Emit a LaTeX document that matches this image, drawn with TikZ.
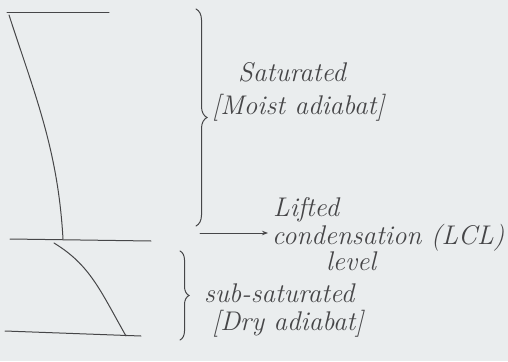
\documentclass[tikz,border=0pt]{standalone}
\usetikzlibrary{decorations.pathreplacing,arrows.meta}
\definecolor{paper}{RGB}{234,237,238}
\definecolor{ink}{RGB}{70,70,72}
\tikzset{
  pen/.style={draw=ink, line width=1pt, line cap=round},
  lbl/.style={text=ink, font=\fontsize{27}{29}\selectfont\itshape, inner sep=0pt, anchor=west},
  bracestyle/.style={pen, decorate, decoration={brace, amplitude=#1}},
}
\begin{document}
\begin{tikzpicture}[x=1pt,y=-1pt]
\fill[paper] (0,0) rectangle (508,361);
\useasboundingbox (0,0) rectangle (508,361);
% levels
\coordinate (t1) at (7,13);   \coordinate (t2) at (109,13);
\coordinate (m1) at (10,239); \coordinate (m2) at (151,241);
\coordinate (b1) at (5,331);  \coordinate (b2) at (141,336);
\draw[pen] (t1) -- (t2);
\draw[pen] (m1) -- (m2);
\draw[pen] (b1) -- (b2);
% moist adiabat
\coordinate (ma1) at (9,15); \coordinate (ma2) at (63,239);
\draw[pen] (ma1) .. controls (35,95) and (58,150) .. (ma2);
% dry adiabat
\coordinate (da1) at (54,243); \coordinate (da2) at (126,336);
\draw[pen] (da1) .. controls (90,265) and (100,290) .. (da2);
% braces
\coordinate (ub1) at (196,9); \coordinate (ub2) at (196,226);
\draw[bracestyle=11pt] (ub1) -- (ub2);
\coordinate (lb1) at (180,251); \coordinate (lb2) at (180,340);
\draw[bracestyle=9pt] (lb1) -- (lb2);
% labels
\node[lbl] (sat) at (238,72) {Saturated};
\node[lbl] (moist) at (212,108) {[Moist adiabat]};
\node[lbl] (lifted) at (273,210) {Lifted};
\node[lbl] (cond) at (272,238) {condensation (LCL)};
\node[lbl] (level) at (326,261) {level};
\node[lbl] (sub) at (204,293) {sub-saturated};
\node[lbl] (dry) at (212,324) {[Dry adiabat]};
% arrow
\coordinate (ar) at (200,233);
\draw[pen, -{Stealth[length=6pt]}] (ar) -- ([xshift=-4pt]cond.west |- ar);
\end{tikzpicture}
\end{document}
